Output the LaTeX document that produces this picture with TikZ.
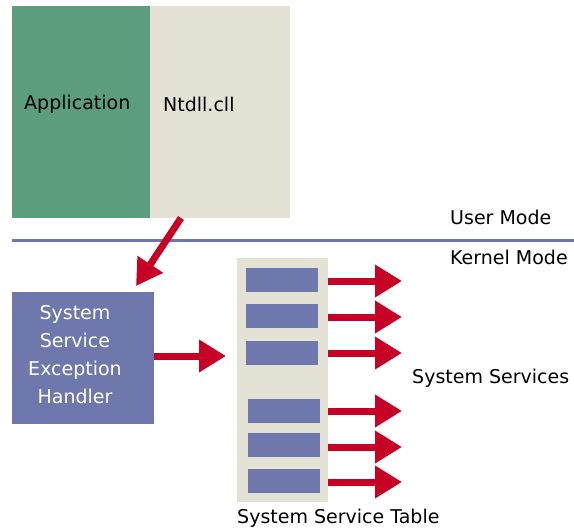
\documentclass[tikz,border=0pt]{standalone}
\usepackage{fontspec}
\setmainfont{DejaVu Sans}
\usetikzlibrary{arrows.meta}
\definecolor{appgreen}{HTML}{5B9D7D}
\definecolor{paneltan}{HTML}{E4E2D5}
\definecolor{slateblue}{HTML}{6E78AC}
\definecolor{callred}{HTML}{C70026}
\tikzset{
  label/.style={font=\fontsize{19}{28}\selectfont, inner sep=0pt, anchor=west},
  slot/.style={fill=slateblue, minimum width=72pt, minimum height=24pt, inner sep=0pt},
  callarrow/.style={draw=callred, line width=7pt,
    -{Triangle[length=27pt,width=31pt,fill=callred]}}
}
\begin{document}
\begin{tikzpicture}[x=1pt,y=-1pt]
  \useasboundingbox (0,0) rectangle (574,531);

  % user-mode modules
  \node[fill=appgreen, minimum width=138pt, minimum height=212pt, inner sep=0pt,
        anchor=north west] (app) at (12,6) {};
  \node[fill=paneltan, minimum width=140pt, minimum height=212pt, inner sep=0pt,
        anchor=north west] (ntdll) at (150,6) {};
  \node[label] (apptxt) at (24,104) {Application};
  \node[label] (ntdlltxt) at (163,104) {Ntdll.cll};

  % user / kernel boundary
  \coordinate (bl) at (12,240);
  \coordinate (br) at (574,240);
  \draw[slateblue, line width=3pt] (bl) -- (br);
  \node[label] (user) at (450,217) {User Mode};
  \node[label] (kernel) at (450,257) {Kernel Mode};

  % exception handler
  \node[fill=slateblue, minimum width=142pt, minimum height=132pt, inner sep=0pt,
        anchor=north west] (handler) at (12,292) {};
  \node[font=\fontsize{19}{28}\selectfont, text=white, align=center, inner sep=0pt]
        (handlertxt) at (75,355) {System\\Service\\Exception\\Handler};

  % trap from ntdll into the handler
  \coordinate (trapstart) at (181,218);
  \coordinate (traptip) at (136,286);
  \draw[callarrow, -{Triangle[length=26pt,width=29pt,fill=callred]}] (trapstart) -- (traptip);

  % system service table
  \node[fill=paneltan, minimum width=91pt, minimum height=244pt, inner sep=0pt,
        anchor=north west] (table) at (237,258) {};
  \node[slot] (s1) at (282,280) {};
  \node[slot] (s2) at (282,316) {};
  \node[slot] (s3) at (282,352.5) {};
  \node[slot] (s4) at (284,410.5) {};
  \node[slot] (s5) at (284,445) {};
  \node[slot] (s6) at (284,481) {};

  % dispatch from handler into the table
  \coordinate (disptip) at (226,356);
  \draw[callarrow] (handler.east |- disptip) -- (disptip);

  % table entries pointing to services
  \foreach \s/\y in {s1/281, s2/317, s3/353, s4/411, s5/447, s6/482}{
    \coordinate (\s tip) at (402,\y);
    \draw[callarrow] (table.east |- \s tip) -- (\s tip);
  }

  \node[label] (services) at (412,378) {System Services};
  \node[label] (tablecap) at (237,518) {System Service Table};
\end{tikzpicture}
\end{document}
